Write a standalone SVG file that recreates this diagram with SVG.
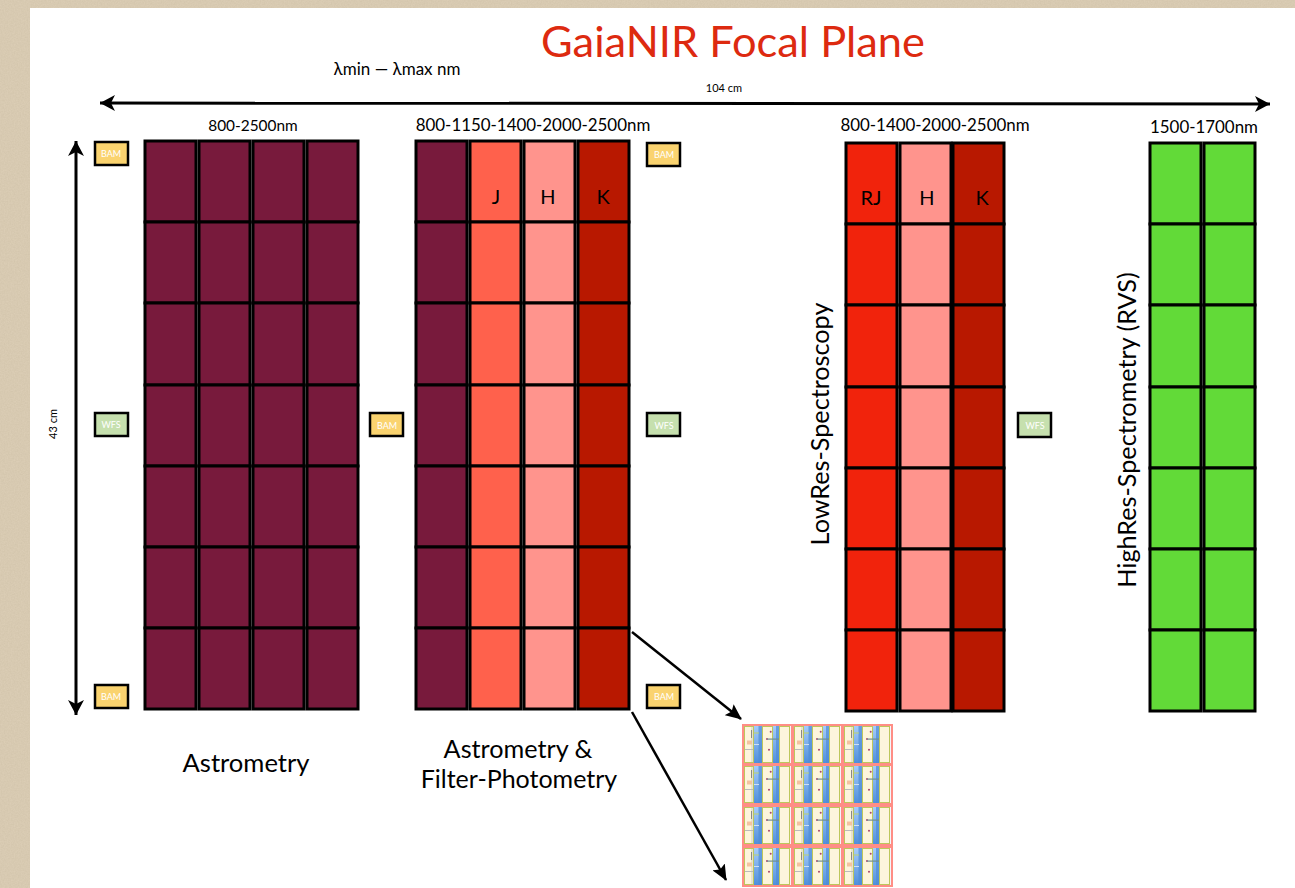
<svg xmlns="http://www.w3.org/2000/svg" width="1295" height="888" viewBox="0 0 1295 888">
<style>
text{font-family:"Lato","Open Sans","Liberation Sans",sans-serif;fill:#000}
.c{stroke:#000;stroke-width:3}
.a{fill:#781a3c}.o{fill:#ff614c}.p{fill:#ff948d}.d{fill:#b81800}.r{fill:#f1230c}.g{fill:#62da38}
.lab{font-size:20px;text-anchor:middle}
.wl{font-size:16.9px;text-anchor:middle}
.big{font-size:25.2px;text-anchor:middle}
.tiny{font-size:11px}
.bt{font-size:9px;fill:#fff;text-anchor:middle}
.bam{fill:#fad36f;stroke:#000;stroke-width:2.5}
.wfs{fill:#c6e0ae;stroke:#000;stroke-width:2.5}
.ln{stroke:#000;fill:none}
.pk{fill:#ff8e86}
.y{fill:#fdf5dc;stroke:#bdc75c;stroke-width:1}
.b{fill:url(#bl)}
</style>
<defs>
<linearGradient id="bl" x1="0" y1="0" x2="0" y2="1"><stop offset="0" stop-color="#a6ccfa"/><stop offset="1" stop-color="#4f8fdc"/></linearGradient>
<filter id="grain" x="0" y="0" width="100%" height="100%"><feTurbulence type="fractalNoise" baseFrequency="0.7" numOctaves="2" seed="4"/><feColorMatrix values="0 0 0 0 0.55  0 0 0 0 0.47  0 0 0 0 0.33  0.5 0 0 0 -0.1"/></filter>
<g id="col7a">
<rect class="c" width="51" height="81" y="0"/><rect class="c" width="51" height="81" y="81"/><rect class="c" width="51" height="82" y="162"/><rect class="c" width="51" height="81" y="244"/><rect class="c" width="51" height="81" y="325"/><rect class="c" width="51" height="81" y="406"/><rect class="c" width="51" height="81" y="487"/>
</g>
<marker id="ah" markerWidth="16" markerHeight="16" viewBox="0 0 16 16" refX="15" refY="8" orient="auto-start-reverse" markerUnits="userSpaceOnUse"><path d="M0 0L15 8L0 16L4 8Z" fill="#000"/></marker>
<marker id="ah2" markerWidth="16" markerHeight="14" viewBox="0 0 16 14" refX="15" refY="7" orient="auto" markerUnits="userSpaceOnUse"><path d="M0 0L16 7L0 14L3 7Z" fill="#000"/></marker>
<g id="tile">
<rect x="0" y="0" width="47" height="37" fill="#f5f5fb"/>
<rect x="10" y="0" width="8" height="37" class="b"/><rect x="14.5" y="0" width="3.5" height="37" fill="#4f8cd6" opacity=".7"/>
<rect x="28" y="0" width="7" height="37" class="b"/><rect x="32" y="0" width="3" height="37" fill="#4f8cd6" opacity=".7"/>
<rect x=".5" y=".5" width="9" height="36" class="y"/><rect x="18.5" y=".5" width="10" height="36" class="y"/><rect x="35.5" y=".5" width="10" height="36" class="y"/>
<rect x="7" y="1" width="2" height="35" fill="#e8e2cc"/>
<rect x="7" y="4" width="1" height="8" fill="#888"/><rect x="3" y="14.5" width="5" height="4" fill="#f3c3a0"/><rect x="1" y="23" width="8" height="1" fill="#bbb"/>
<rect x="10" y="6.5" width="5" height="1" fill="#bccf70"/><rect x="10" y="18" width="5" height="1" fill="#cfe0f5"/>
<circle cx="26.7" cy="5.7" r="1" fill="#a8456a"/><circle cx="23" cy="13" r="1" fill="#a8456a"/><circle cx="25" cy="23.7" r="1" fill="#a8456a"/>
<rect x="23" y="12.5" width="12" height="1.2" fill="#6f8f93"/>
</g>
</defs>
<rect width="1295" height="888" fill="#dbcdb5"/>
<rect width="1295" height="888" filter="url(#grain)"/>
<rect x="30" y="8" width="1265" height="880" fill="#fff"/>
<text x="733" y="57" font-size="43.4" text-anchor="middle" style="fill:#dd2a10">GaiaNIR Focal Plane</text>
<text x="397" y="75" text-anchor="middle" style="font-size:17px">λmin — λmax nm</text>
<text class="tiny" x="724" y="92" text-anchor="middle">104 cm</text>
<text class="tiny" transform="translate(57 424) rotate(-90)" text-anchor="middle">43 cm</text>
<g id="connectors">
<line class="ln" stroke-width="3" x1="100" y1="103" x2="1270" y2="104" marker-start="url(#ah)" marker-end="url(#ah)"/>
<line class="ln" stroke-width="3" x1="76" y1="141" x2="76" y2="715" marker-start="url(#ah)" marker-end="url(#ah)"/>
<line class="ln" stroke-width="2.5" x1="632" y1="632" x2="741" y2="719" marker-end="url(#ah2)"/>
<line class="ln" stroke-width="2.5" x1="632" y1="712" x2="726" y2="880" marker-end="url(#ah2)"/>
</g>
<g id="astrometry">
<use href="#col7a" class="a" x="145" y="141"/>
<use href="#col7a" class="a" x="199" y="141"/>
<use href="#col7a" class="a" x="253" y="141"/>
<use href="#col7a" class="a" x="307" y="141"/>
<text class="wl" x="253" y="131" style="font-size:15.4px">800-2500nm</text>
<text class="big" x="246" y="772" style="font-size:25.6px">Astrometry</text>
</g>
<g id="filter-photometry">
<use href="#col7a" class="a" x="416" y="141"/>
<use href="#col7a" class="o" x="470" y="141"/>
<use href="#col7a" class="p" x="524" y="141"/>
<use href="#col7a" class="d" x="578" y="141"/>
<text class="wl" x="533" y="131">800-1150-1400-2000-2500nm</text>
<text class="lab" x="496" y="204">J</text>
<text class="lab" x="548" y="204">H</text>
<text class="lab" x="603" y="204">K</text>
<text class="big" x="518" y="758">Astrometry &amp;</text>
<text class="big" x="519" y="788" style="font-size:25px">Filter-Photometry</text>
</g>
<g id="lowres">
<use href="#col7a" class="r" x="846" y="143"/>
<use href="#col7a" class="p" x="900" y="143"/>
<use href="#col7a" class="d" x="953" y="143"/>
<text class="wl" x="935" y="131">800-1400-2000-2500nm</text>
<text class="lab" x="871" y="205">RJ</text>
<text class="lab" x="927" y="205">H</text>
<text class="lab" x="982" y="205">K</text>
<text class="big" transform="translate(829 424) rotate(-90)">LowRes-Spectroscopy</text>
</g>
<g id="highres">
<use href="#col7a" class="g" x="1150" y="143"/>
<use href="#col7a" class="g" x="1204" y="143"/>
<text class="wl" x="1204" y="133">1500-1700nm</text>
<text class="big" transform="translate(1136 430) rotate(-90)">HighRes-Spectrometry (RVS)</text>
</g>
<g id="bam-1"><rect class="bam" x="95" y="142" width="33" height="23"/><text class="bt" x="111" y="157">BAM</text></g>
<g id="wfs-1"><rect class="wfs" x="95" y="413" width="33" height="23"/><text class="bt" x="111" y="428">WFS</text></g>
<g id="bam-2"><rect class="bam" x="95" y="685" width="33" height="23"/><text class="bt" x="111" y="700">BAM</text></g>
<g id="bam-3"><rect class="bam" x="370" y="413" width="33" height="23"/><text class="bt" x="387" y="429">BAM</text></g>
<g id="bam-4"><rect class="bam" x="647" y="143" width="33" height="23"/><text class="bt" x="664" y="158">BAM</text></g>
<g id="wfs-2"><rect class="wfs" x="647" y="413" width="33" height="23"/><text class="bt" x="664" y="429">WFS</text></g>
<g id="bam-5"><rect class="bam" x="647" y="685" width="33" height="23"/><text class="bt" x="664" y="700">BAM</text></g>
<g id="wfs-3"><rect class="wfs" x="1018" y="413" width="33" height="24"/><text class="bt" x="1035" y="429">WFS</text></g>
<g id="detector">
<rect class="pk" x="742" y="724" width="151" height="163"/>
<use href="#tile" x="744" y="726"/><use href="#tile" x="794" y="726"/><use href="#tile" x="844" y="726"/>
<use href="#tile" x="744" y="766"/><use href="#tile" x="794" y="766"/><use href="#tile" x="844" y="766"/>
<use href="#tile" x="744" y="807"/><use href="#tile" x="794" y="807"/><use href="#tile" x="844" y="807"/>
<use href="#tile" x="744" y="848"/><use href="#tile" x="794" y="848"/><use href="#tile" x="844" y="848"/>
</g>
</svg>
